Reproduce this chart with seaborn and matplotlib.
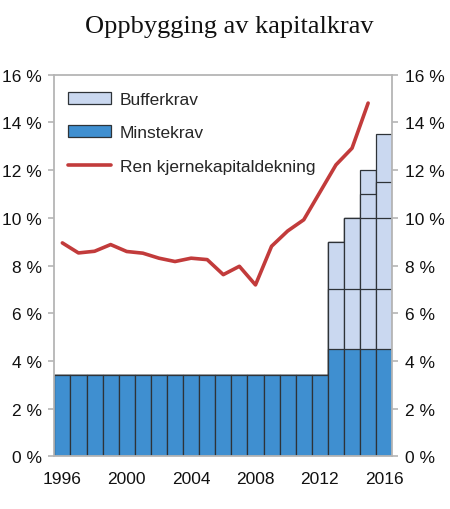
import numpy as np
import pandas as pd
import matplotlib
matplotlib.use("Agg")
import matplotlib.pyplot as plt
import seaborn as sns
from matplotlib.patches import Patch
from matplotlib.lines import Line2D

# data
years = list(range(1996, 2017))
minstekrav = [3.4] * 17 + [4.5, 4.5, 4.5, 4.5]
# bufferkrav split into the stacked segments seen in the chart
buffer_1 = [0] * 17 + [2.5, 2.5, 2.5, 2.5]
buffer_2 = [0] * 17 + [2.0, 3.0, 3.0, 3.0]
buffer_3 = [0] * 17 + [0.0, 0.0, 1.0, 1.5]
buffer_4 = [0] * 17 + [0.0, 0.0, 1.0, 2.0]

line_years = list(range(1996, 2016))
ren_kjerne = [8.95, 8.53, 8.60, 8.88, 8.59, 8.52, 8.31, 8.17, 8.31, 8.25,
              7.62, 7.97, 7.19, 8.81, 9.45, 9.92, 11.07, 12.22, 12.92, 14.81]

yticks = [0, 2, 4, 6, 8, 10, 12, 14, 16]
xticks = [1996, 2000, 2004, 2008, 2012, 2016]

df = pd.DataFrame({"year": years, "min": minstekrav,
                   "b1": buffer_1, "b2": buffer_2, "b3": buffer_3, "b4": buffer_4})
df["c1"] = df["min"] + df["b1"]
df["c2"] = df["c1"] + df["b2"]
df["c3"] = df["c2"] + df["b3"]
df["c4"] = df["c3"] + df["b4"]

sns.set_theme(style="white")
plt.rcParams["font.family"] = ["Liberation Sans", "DejaVu Sans"]

blue = "#3f8fd0"
light = "#cad8f0"
red = "#c23b3b"
edge = "#2e3338"
spine_col = "#b5b5b5"

fig = plt.figure(figsize=(4.5, 5.1), dpi=100)
ax = fig.add_axes([0.1207, 0.103, 0.751, 0.7486])

# tallest cumulative first, lower layers on top -> segment outlines
for col in ["c4", "c3", "c2", "c1"]:
    sns.barplot(data=df, x="year", y=col, native_scale=True, width=1.0,
                color=light, saturation=1, edgecolor=edge, linewidth=0.9,
                errorbar=None, ax=ax)
sns.barplot(data=df, x="year", y="min", native_scale=True, width=1.0,
            color=blue, saturation=1, edgecolor=edge, linewidth=0.9,
            errorbar=None, ax=ax)

sns.lineplot(x=line_years, y=ren_kjerne, color=red, linewidth=2.6, ax=ax, zorder=5)

ax.set_xlim(1995.5, 2016.5)
ax.set_ylim(0, 16)
ax.set_yticks(yticks)
ax.set_yticklabels([f"{v} %" for v in yticks])
ax.set_xticks(xticks)
ax.set_xticklabels([str(v) for v in xticks])
ax.set_xlabel("")
ax.set_ylabel("")

for s in ax.spines.values():
    s.set_color(spine_col)
    s.set_linewidth(1.3)
    s.set_visible(True)

ax.tick_params(axis="y", left=True, right=True, labelleft=True, labelright=True,
               length=4.5, width=1.2, color=spine_col, labelsize=12.5,
               labelcolor="#111111", pad=4.5)
ax.tick_params(axis="x", length=0, labelsize=12.5, labelcolor="#111111", pad=10.5)

handles = [Patch(facecolor=light, edgecolor=edge, linewidth=0.9),
           Patch(facecolor=blue, edgecolor=edge, linewidth=0.9),
           Line2D([0], [0], color=red, linewidth=2.6)]
ax.legend(handles, ["Bufferkrav", "Minstekrav", "Ren kjernekapitaldekning"],
          loc="upper left", bbox_to_anchor=(0.04, 0.955), frameon=False,
          fontsize=12.5, handlelength=2.5, handleheight=0.7, handletextpad=0.5,
          labelspacing=1.05, borderaxespad=0, borderpad=0)

fig.text(229 / 450, 0.935, "Oppbygging av kapitalkrav", ha="center", va="baseline",
         fontsize=19, family=["Liberation Serif", "DejaVu Serif"], color="#111111")

fig.savefig("out.png", dpi=100)
